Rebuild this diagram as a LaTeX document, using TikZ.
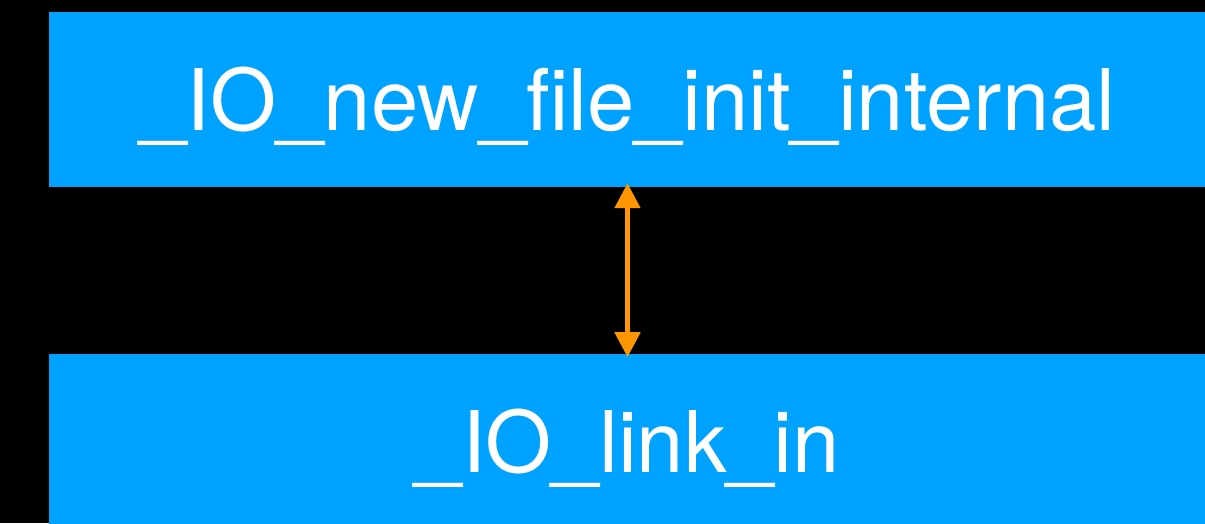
\documentclass[tikz,border=0pt]{standalone}
\usepackage{fontspec}
\setmainfont{TeX Gyre Heros}
\usepackage{tikz}
\usetikzlibrary{positioning,arrows.meta}
\usepackage{xcolor}
\definecolor{boxcol}{HTML}{00A2FF}
\definecolor{arrcol}{HTML}{FF9500}

\begin{document}
\begin{tikzpicture}[x=1pt,y=-1pt,
          fnbox/.style={fill=boxcol,text=white,inner sep=0pt,
            minimum width=1157pt,minimum height=175pt,
            text height=61pt,text depth=0pt,
            font=\fontsize{85}{90}\selectfont},
          link/.style={{Triangle[width=25pt,length=25pt]}-{Triangle[width=25pt,length=25pt]},
            line width=5pt,arrcol,shorten <=-4pt,shorten >=-3pt}
        ]
        \fill[black] (0,0) rectangle (1205,523);
        \useasboundingbox (0,0) rectangle (1205,523);
        \clip (0,0) rectangle (1205,523);
        \node[fnbox] (init) at (627.5,99.5) {\_IO\_new\_file\_init\_internal};
        \node[fnbox,below=167pt of init] (linkin) {\_IO\_link\_in};
        \draw[link] (init.south) -- (linkin.north);
      \end{tikzpicture}
\end{document}
